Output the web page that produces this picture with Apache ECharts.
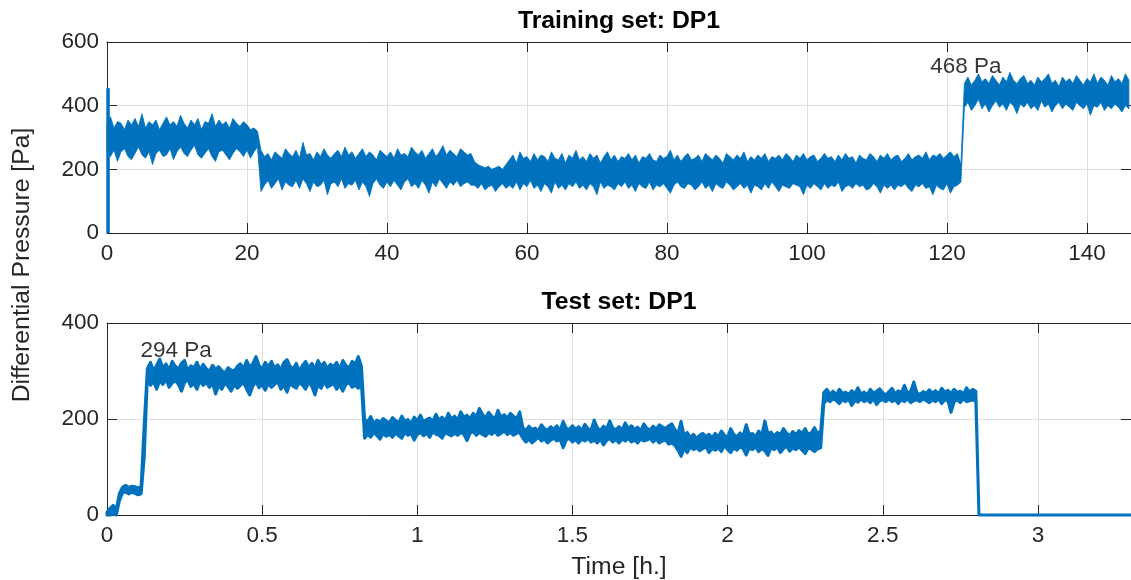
<!DOCTYPE html>
<html><head><meta charset="utf-8">
<script src="https://cdn.jsdelivr.net/npm/echarts@6/dist/echarts.min.js"></script>
<style>html,body{margin:0;padding:0;background:#fff}#c{width:1131px;height:580px}</style>
</head><body><div id="c"></div><script>
// ---------------- DATA ----------------
var TRAIN_STEP = 0.5;
var trainUpper = [
  // 0 - 21.5 h
  340,365,330,350,345,325,355,340,360,335,
  375,330,350,340,355,325,345,365,340,350,
  335,370,345,330,355,340,360,325,350,345,
  375,335,355,340,350,330,360,345,335,350,
  340,325,330,320,
  // 22 - 52 h
  260,240,250,230,255,245,235,265,250,240,
  260,235,285,245,250,230,255,240,265,245,
  235,250,260,240,270,245,255,235,250,265,
  240,255,245,230,260,250,240,255,235,265,
  245,250,240,270,255,245,260,235,250,265,
  240,255,275,245,260,250,240,265,255,245,
  250,
  // 52.5 - 57 h
  225,215,210,205,210,200,205,210,200,215,
  // 57.5 - 122 h
  230,245,220,255,235,240,225,250,230,245,
  240,225,255,235,230,250,220,245,235,260,
  230,240,225,250,235,245,220,240,255,230,
  245,225,240,235,250,230,245,220,240,235,
  250,230,225,245,235,240,260,230,245,225,
  240,250,230,235,245,225,250,240,230,245,
  235,220,250,240,230,245,235,255,225,240,
  230,245,235,250,225,240,235,245,230,250,
  240,225,245,235,250,230,240,245,225,235,
  250,235,240,225,245,230,250,235,240,220,
  245,235,230,250,240,225,245,235,250,230,
  240,245,225,235,250,230,240,245,235,255,
  230,245,240,250,235,245,255,240,250,215,
  // 122.5 - 146 h
  470,490,465,480,500,475,485,470,495,480,
  465,490,475,505,480,470,485,495,470,480,
  465,490,475,485,500,470,480,460,490,475,
  485,470,495,480,465,485,475,500,470,490,
  480,465,495,475,485,470,500,480
];
var trainLower = [
  250,240,260,225,255,265,240,230,250,270,
  245,235,255,215,250,260,240,245,265,230,
  255,270,250,240,260,275,245,235,250,265,
  240,225,255,260,245,230,250,265,255,240,
  260,235,255,270,
  130,150,165,140,155,170,135,160,150,145,
  165,140,170,155,130,160,145,150,165,120,
  155,160,145,170,140,155,150,165,135,160,
  145,115,155,170,150,140,160,145,165,150,
  135,160,170,145,155,140,165,150,125,160,
  145,170,155,140,160,150,165,145,155,160,
  150,
  150,140,155,135,145,150,130,145,155,140,
  150,140,160,135,155,145,165,140,150,130,
  155,145,125,160,140,150,135,155,145,160,
  140,150,135,155,145,120,160,140,150,145,
  135,155,145,160,140,150,130,155,145,140,
  160,135,150,145,155,140,125,150,160,145,
  140,155,150,135,145,160,140,150,130,155,
  145,140,160,150,135,145,155,140,150,125,
  150,145,135,155,140,160,145,130,150,145,
  140,155,150,145,120,150,140,155,145,135,
  155,140,150,145,160,130,145,150,140,155,
  145,150,135,140,155,145,125,150,140,150,
  135,150,145,155,140,130,150,145,155,140,
  145,120,150,140,135,155,125,145,150,160,
  395,410,385,400,420,390,405,380,400,415,
  395,405,385,410,400,375,405,395,410,390,
  400,385,415,395,405,380,400,410,390,405,
  395,385,410,400,390,405,370,400,395,410,
  385,400,390,405,395,380,400,390
];
// start-up spike of the training record
var trainSpikeTime = [0.15, 0.15];
var trainSpikeValue = [0, 455];

// Test set: sampled every 0.01 h from t = 0 h
var TEST_STEP = 0.01;
var testUpper = [
  6,14,20,12,
  45,58,62,57,60,59,56,60,
  190,
  305,318,300,312,325,306,315,302,320,310,
  304,316,322,300,311,307,318,302,314,305,
  299,312,304,309,301,296,307,302,300,310,
  315,305,322,308,316,330,312,304,318,309,
  320,306,313,302,318,324,310,305,316,300,
  312,320,307,316,304,322,310,318,305,314,
  309,318,304,322,312,306,320,315,330,310,
  200,194,205,190,198,193,201,196,192,203,
  197,192,206,195,199,190,204,196,208,194,
  199,202,195,210,198,204,196,212,200,206,
  198,215,203,208,200,212,205,222,210,202,
  214,206,200,218,204,209,202,212,206,200,
  215,
  182,176,185,178,181,175,188,180,177,184,
  179,186,176,195,181,178,186,179,184,176,
  189,180,177,198,182,176,185,179,196,181,
  178,184,177,192,180,186,178,183,176,190,
  181,177,185,179,188,184,180,186,190,
  178,170,195,165,172,162,168,160,166,170,
  164,168,161,170,163,175,166,162,180,168,
  163,171,165,188,168,170,163,175,166,196,
  169,173,164,172,168,180,171,165,174,167,
  176,170,180,168,172,182,170,
  175,255,
  262,252,258,250,262,254,256,251,259,253,
  265,252,256,250,262,254,258,263,255,250,
  257,264,252,259,255,270,253,258,277,255,
  251,257,253,261,254,259,252,264,256,260,
  253,262,255,258,252,265,256,262,258,
  0,0
];
var testLower = [
  0,0,2,0,
  30,46,48,44,47,45,42,44,
  120,
  285,270,278,262,280,272,283,266,275,280,
  272,258,276,282,268,274,262,279,270,276,
  266,274,252,270,262,275,268,258,272,264,
  270,276,262,250,268,278,265,272,260,274,
  266,272,278,262,270,256,274,268,264,276,
  270,262,276,268,250,272,264,278,266,270,
  274,262,270,258,272,276,266,270,264,272,
  160,168,162,172,165,158,170,164,168,162,
  170,165,160,172,166,170,156,168,172,165,
  170,162,174,168,166,160,172,168,165,170,
  166,172,168,155,170,174,166,172,168,164,
  172,168,174,166,170,175,168,172,166,170,
  172,
  160,152,158,150,156,162,154,158,150,156,
  160,154,158,140,156,160,152,157,150,158,
  154,160,152,156,150,158,146,155,160,152,
  157,150,158,154,160,152,156,150,158,154,
  156,160,152,158,150,154,156,148,150,
  145,135,122,138,130,142,136,140,134,138,
  142,130,138,135,140,132,145,136,130,140,
  135,142,138,125,140,136,142,132,138,134,
  124,140,136,142,130,138,144,133,140,136,
  142,135,128,140,137,132,138,
  140,232,
  240,236,242,238,232,240,236,242,228,238,
  235,242,236,240,234,242,230,238,240,236,
  242,236,240,232,240,236,242,234,238,240,
  236,242,238,234,240,236,242,232,240,238,
  214,236,240,234,242,236,238,240,236,
  0,0
];
var testTailTime = [2.9, 3.0, 3.1, 3.2, 3.31];
var testTailValue = [0, 0, 0, 0, 0];

// annotations
var noteTrain = { t: 122.7, v: 522, text: '468 Pa' };
var noteTest  = { t: 0.223, v: 342, text: '294 Pa' };

// axes
var trainXMax = 146.3, trainXInterval = 20, trainYMax = 600, trainYInterval = 200;
var testXMax = 3.3, testXInterval = 0.5, testYMax = 400, testYInterval = 200;

if (trainUpper.length !== 293 || trainLower.length !== 293) throw new Error('train length ' + trainUpper.length + ' ' + trainLower.length);
if (testUpper.length !== 283 || testLower.length !== 283) throw new Error('test length ' + testUpper.length + ' ' + testLower.length);

// ---------------- BUILD ----------------
var BLUE = '#0072BD';
var AX = '#262626';
var GRIDC = '#dfdfdf';
var FONT = '"Liberation Sans", Arial, Helvetica, sans-serif';
var TICKFS = 22.5, LABFS = 24.75;

var trainTime = trainUpper.map(function (_, i) { return +(i * TRAIN_STEP).toFixed(3); });
var testTime = testUpper.map(function (_, i) { return +(i * TEST_STEP).toFixed(3); });
var testTimeAll = testTime.concat(testTailTime);
var testUpperAll = testUpper.concat(testTailValue);
var testLowerAll = testLower.concat(testTailValue);

function band(xi, yi, times, up, lo, width) {
  return {
    type: 'custom', xAxisIndex: xi, yAxisIndex: yi, silent: true, z: 3,
    animation: false,
    data: [[times[0], lo[0]]], encode: { x: 0, y: 1 },
    renderItem: function (params, api) {
      var pts = [];
      for (var i = 0; i < times.length; i++) pts.push(api.coord([times[i], up[i]]));
      for (var j = times.length - 1; j >= 0; j--) pts.push(api.coord([times[j], lo[j]]));
      return { type: 'polygon', shape: { points: pts },
        style: { fill: BLUE, stroke: BLUE, lineWidth: width, lineJoin: 'round' } };
    }
  };
}

function mainX(gi, max, interval) {
  return { type: 'value', gridIndex: gi, position: 'bottom', min: 0, max: max, interval: interval,
    axisLine: { show: true, onZero: false, lineStyle: { color: AX, width: 1 } },
    axisTick: { show: true, inside: true, length: 10, lineStyle: { color: AX } },
    axisLabel: { show: true, color: AX, fontSize: TICKFS, fontFamily: FONT, margin: 9, showMaxLabel: false },
    splitLine: { show: true, lineStyle: { color: GRIDC, width: 1 } } };
}
function topX(gi, max, interval) {
  return { type: 'value', gridIndex: gi, position: 'top', min: 0, max: max, interval: interval,
    axisLine: { show: true, onZero: false, lineStyle: { color: AX, width: 1 } },
    axisTick: { show: true, inside: true, length: 10, lineStyle: { color: AX } },
    axisLabel: { show: false }, splitLine: { show: false } };
}
function leftY(gi, max, interval) {
  return { type: 'value', gridIndex: gi, position: 'left', min: 0, max: max, interval: interval,
    axisLine: { show: true, onZero: false, lineStyle: { color: AX, width: 1 } },
    axisTick: { show: true, inside: true, length: 10, lineStyle: { color: AX } },
    axisLabel: { show: true, color: AX, fontSize: TICKFS, fontFamily: FONT, margin: 8 },
    splitLine: { show: true, lineStyle: { color: GRIDC, width: 1 } } };
}
function rightY(gi, max, interval) {
  return { type: 'value', gridIndex: gi, position: 'right', min: 0, max: max, interval: interval,
    axisLine: { show: true, onZero: false, lineStyle: { color: AX, width: 1 } },
    axisTick: { show: true, inside: true, length: 10, lineStyle: { color: AX } },
    axisLabel: { show: false }, splitLine: { show: false } };
}
function note(xi, yi, n) {
  return { type: 'scatter', xAxisIndex: xi, yAxisIndex: yi, silent: true, z: 5,
    symbol: 'circle', symbolSize: 1, itemStyle: { color: 'rgba(0,0,0,0)' },
    data: [[n.t, n.v]],
    label: { show: true, position: 'inside', formatter: n.text, color: '#000',
      fontSize: TICKFS, fontFamily: FONT } };
}

var chart = echarts.init(document.getElementById('c'), null, { renderer: 'canvas' });
chart.setOption({
  animation: false,
  backgroundColor: '#fff',
  grid: [
    { left: 107, top: 42, right: 0, height: 191, containLabel: false },
    { left: 107, top: 323, right: 0, height: 192, containLabel: false }
  ],
  xAxis: [mainX(0, trainXMax, trainXInterval), topX(0, trainXMax, trainXInterval),
          mainX(1, testXMax, testXInterval), topX(1, testXMax, testXInterval)],
  yAxis: [leftY(0, trainYMax, trainYInterval), rightY(0, trainYMax, trainYInterval),
          leftY(1, testYMax, testYInterval), rightY(1, testYMax, testYInterval)],
  series: [
    band(0, 0, trainTime, trainUpper, trainLower, 0.8),
    { type: 'line', xAxisIndex: 0, yAxisIndex: 0, symbol: 'none', silent: true, z: 3, clip: false,
      data: trainSpikeTime.map(function (t, i) { return [t, trainSpikeValue[i]]; }),
      lineStyle: { color: BLUE, width: 3.5 } },
    band(2, 2, testTimeAll, testUpperAll, testLowerAll, 3),
    note(0, 0, noteTrain),
    note(2, 2, noteTest)
  ],
  graphic: [
    { type: 'text', x: 619, y: 21, style: { text: 'Training set: DP1', textAlign: 'center', textVerticalAlign: 'middle',
      font: 'bold ' + LABFS + 'px ' + FONT, fill: '#000' } },
    { type: 'text', x: 619, y: 302, style: { text: 'Test set: DP1', textAlign: 'center', textVerticalAlign: 'middle',
      font: 'bold ' + LABFS + 'px ' + FONT, fill: '#000' } },
    { type: 'text', x: 619, y: 567, style: { text: 'Time [h.]', textAlign: 'center', textVerticalAlign: 'middle',
      font: LABFS + 'px ' + FONT, fill: AX } },
    { type: 'text', x: 22, y: 265, rotation: Math.PI / 2, style: { text: 'Differential Pressure [Pa]', textAlign: 'center', textVerticalAlign: 'middle',
      font: LABFS + 'px ' + FONT, fill: AX } }
  ]
});
</script></body></html>
